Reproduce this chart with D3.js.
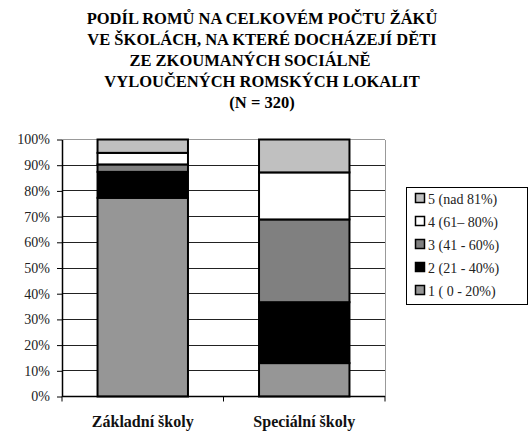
<!DOCTYPE html>
<html><head><meta charset="utf-8">
<script src="https://cdn.jsdelivr.net/npm/d3@7"></script>
</head><body style="margin:0">
<svg id="c" width="530" height="432"><style>#c text{font-family:"Liberation Serif",serif !important;}</style></svg>
<script>
const titleLines = ["PODÍL ROMŮ NA CELKOVÉM POČTU ŽÁKŮ","VE ŠKOLÁCH, NA KTERÉ DOCHÁZEJÍ DĚTI","ZE ZKOUMANÝCH SOCIÁLNĚ","VYLOUČENÝCH ROMSKÝCH LOKALIT","(N = 320)"];
const categories = ["Základní školy","Speciální školy"];
const seriesNames = ["1 ( 0 - 20%)","2 (21 - 40%)","3 (41 - 60%)","4 (61– 80%)","5 (nad 81%)"];
const seriesColors = ["#969696","#000000","#808080","#ffffff","#c0c0c0"];
const zakladni = [77.3, 10.1, 2.9, 4.5, 5.2];
const specialni = [13.0, 23.7, 32.2, 18.3, 12.8];
const yTicks = [0,10,20,30,40,50,60,70,80,90,100];

(function(){
const svg = d3.select("#c");
const FF = '"Liberation Serif"';
function ser(sel, size, bold){
  sel.attr("font-family", "Liberation Serif").attr("font-size", size)
     .style("font-family", FF, "important").style("font-size", size+"px", "important");
  if (bold) sel.attr("font-weight","bold").style("font-weight","bold","important");
  return sel;
}
const M = {l:62, r:385, t:139.5, b:396.5};

const tt = svg.append("g").selectAll("text").data(titleLines).join("text")
  .attr("x",(d,i)=>i===2?250:262).attr("y",(d,i)=>24+i*20.9)
  .attr("text-anchor","middle").attr("fill","#000").text(d=>d);
ser(tt, 16.5, true);

const xs = d3.scaleBand().domain(categories).range([M.l,M.r]).paddingInner(0.44).paddingOuter(0.22);
const ys = d3.scaleLinear().domain([0,100]).range([M.b,M.t]);

svg.append("g").selectAll("line").data(yTicks.filter(d=>d>0)).join("line")
  .attr("x1",M.l).attr("x2",M.r).attr("y1",d=>ys(d)).attr("y2",d=>ys(d))
  .attr("stroke",d=>d===100?"#999":"#222").attr("stroke-width",1).attr("shape-rendering","crispEdges");
svg.append("line").attr("x1",M.r).attr("x2",M.r).attr("y1",M.t).attr("y2",M.b)
  .attr("stroke","#999").attr("shape-rendering","crispEdges");

const data = [zakladni, specialni];
const stacked = data.map((vals,ci)=>{let acc=0; return vals.map((v,si)=>{const o={cat:categories[ci],s:si,y0:acc,y1:acc+v}; acc+=v; return o;});}).flat();
svg.append("g").selectAll("rect").data(stacked).join("rect")
  .attr("x",d=>xs(d.cat)).attr("width",xs.bandwidth())
  .attr("y",d=>ys(d.y1)).attr("height",d=>ys(d.y0)-ys(d.y1))
  .attr("fill",d=>seriesColors[d.s]).attr("stroke","#000").attr("stroke-width",2);

const yAxis = d3.axisLeft(ys).tickValues(yTicks).tickFormat(d=>d+"%").tickSize(5).tickSizeOuter(0);
const ya = svg.append("g").attr("transform",`translate(${M.l},0)`).call(yAxis);
ya.attr("font-family", "Liberation Serif").attr("font-size", 14);
ya.select(".domain").attr("stroke","#000").attr("stroke-width",1.5);
ya.selectAll(".tick line").attr("stroke","#000");
ser(ya.selectAll(".tick text"), 14, false).attr("fill","#222").attr("x",-12);

const xa = svg.append("g").attr("transform",`translate(0,${M.b})`);
xa.append("line").attr("x1",M.l).attr("x2",M.r).attr("stroke","#000").attr("stroke-width",1.5);
xa.selectAll(".tk").data(d3.range(categories.length+1)).join("line").attr("class","tk")
  .attr("x1",i=>M.l+i*(M.r-M.l)/categories.length).attr("x2",i=>M.l+i*(M.r-M.l)/categories.length)
  .attr("y1",0).attr("y2",5).attr("stroke","#000");
const ct = xa.selectAll("text").data(categories).join("text")
  .attr("x",d=>xs(d)+xs.bandwidth()/2).attr("y",30.5)
  .attr("text-anchor","middle").attr("fill","#111").text(d=>d);
ser(ct, 16, true);

const lg = svg.append("g");
lg.append("rect").attr("x",406.5).attr("y",187.5).attr("width",121).attr("height",117)
  .attr("fill","#fff").attr("stroke","#000");
const order = [4,3,2,1,0];
const li = lg.selectAll("g").data(order).join("g")
  .attr("transform",(d,i)=>`translate(415,${199+i*23})`);
li.append("rect").attr("x",0.5).attr("y",-5.5).attr("width",9).attr("height",9)
  .attr("fill",d=>seriesColors[d]).attr("stroke","#000").attr("stroke-width",1.5);
ser(li.append("text").attr("x",13).attr("y",4.5).attr("fill","#222").text(d=>seriesNames[d]), 14, false);
})();
</script>
</body></html>
